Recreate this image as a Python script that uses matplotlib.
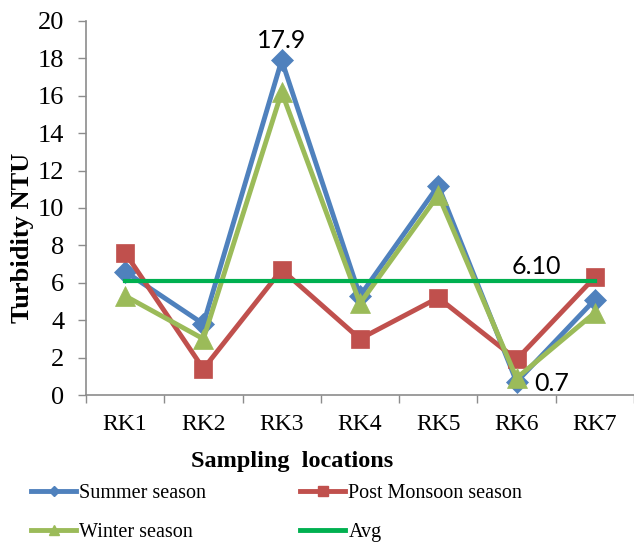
import matplotlib
matplotlib.use("Agg")
import matplotlib.pyplot as plt
from matplotlib.lines import Line2D

locations = ["RK1", "RK2", "RK3", "RK4", "RK5", "RK6", "RK7"]
summer = [6.6, 3.8, 17.9, 5.3, 11.2, 0.7, 5.1]
post_monsoon = [7.6, 1.4, 6.7, 3.0, 5.2, 1.9, 6.3]
winter = [5.3, 3.0, 16.2, 4.9, 10.7, 0.9, 4.4]
avg = 6.10

BLUE = "#4F81BD"
RED = "#C0504D"
GREEN = "#9BBB59"
AVG_GREEN = "#00B050"
AXIS_GREY = "#8C8C8C"

serif = "Liberation Serif"
label_font = "Lato"

fig = plt.figure(figsize=(6.34, 5.45), dpi=100)
ax = fig.add_axes([0.1356, 0.2752, 0.8644, 0.6863])

x = list(range(len(locations)))
ax.plot(x, summer, color=BLUE, lw=3.5, marker="D", ms=11, mec=BLUE, mew=0.5, zorder=3)
ax.plot(x, post_monsoon, color=RED, lw=3.5, marker="s", ms=13, mec=RED, mew=0.5, zorder=4)
ax.plot(x, winter, color=GREEN, lw=3.5, marker="^", ms=14, mec=GREEN, mew=0.5, zorder=5)
ax.plot(x, [avg] * len(x), color=AVG_GREEN, lw=3, zorder=6)

# value labels
i_max = summer.index(max(summer))
ax.annotate(f"{summer[i_max]:.1f}", (i_max, summer[i_max]), xytext=(0, 6),
            textcoords="offset points", ha="center", va="bottom",
            fontsize=18, family=label_font)
i_min = summer.index(min(summer))
ax.annotate(f"{summer[i_min]:.1f}", (i_min, summer[i_min]), xytext=(13, -1),
            textcoords="offset points", ha="left", va="center",
            fontsize=18, family=label_font)
ax.annotate(f"{avg:.2f}", (5, avg), xytext=(14, 2),
            textcoords="offset points", ha="center", va="bottom",
            fontsize=18, family=label_font)

ax.set_xlim(-0.5, len(locations) - 0.5)
ax.set_ylim(0, 20)
ax.set_yticks(range(0, 21, 2))
ax.set_yticklabels([str(v) for v in range(0, 21, 2)], family=serif, fontsize=19)

# category boundaries get the tick marks, centres get the labels
ax.set_xticks([i - 0.5 for i in range(len(locations) + 1)])
ax.set_xticklabels([])
ax.set_xticks(x, minor=True)
ax.set_xticklabels(locations, minor=True, family=serif, fontsize=17)
ax.tick_params(axis="x", which="major", length=5.5, width=1, color=AXIS_GREY, direction="out")
ax.tick_params(axis="x", which="minor", length=0, pad=14)
ax.tick_params(axis="y", length=5.5, width=1, color=AXIS_GREY, direction="out", pad=10)

for side in ("top", "right"):
    ax.spines[side].set_visible(False)
for side in ("left", "bottom"):
    ax.spines[side].set_color(AXIS_GREY)
    ax.spines[side].set_linewidth(1.2)

fig.text(23 / 634, 1 - 238 / 545, "Turbidity NTU", rotation=90, ha="center", va="center",
         family=serif, fontweight="bold", fontsize=19)
fig.text(292 / 634, 1 - 461 / 545, "Sampling  locations", ha="center", va="center",
         family=serif, fontweight="bold", fontsize=17.5)

summer_h = Line2D([], [], color=BLUE, lw=3.5, marker="D", ms=5)
post_h = Line2D([], [], color=RED, lw=3.5, marker="s", ms=7)
winter_h = Line2D([], [], color=GREEN, lw=3.5, marker="^", ms=7)
avg_h = Line2D([], [], color=AVG_GREEN, lw=3.5)
# legend fills column by column, so list column 1 first
fig.legend([summer_h, winter_h, post_h, avg_h],
           ["Summer season", "Winter season", "Post Monsoon season", "Avg"],
           loc="center left", bbox_to_anchor=(31 / 634, 1 - 513 / 545),
           ncol=2, frameon=False, borderpad=0, borderaxespad=0,
           handlelength=2.25, handletextpad=0.15, columnspacing=4.65, labelspacing=0.95,
           prop={"family": serif, "size": 14.5})

fig.savefig("out.png", dpi=100)
